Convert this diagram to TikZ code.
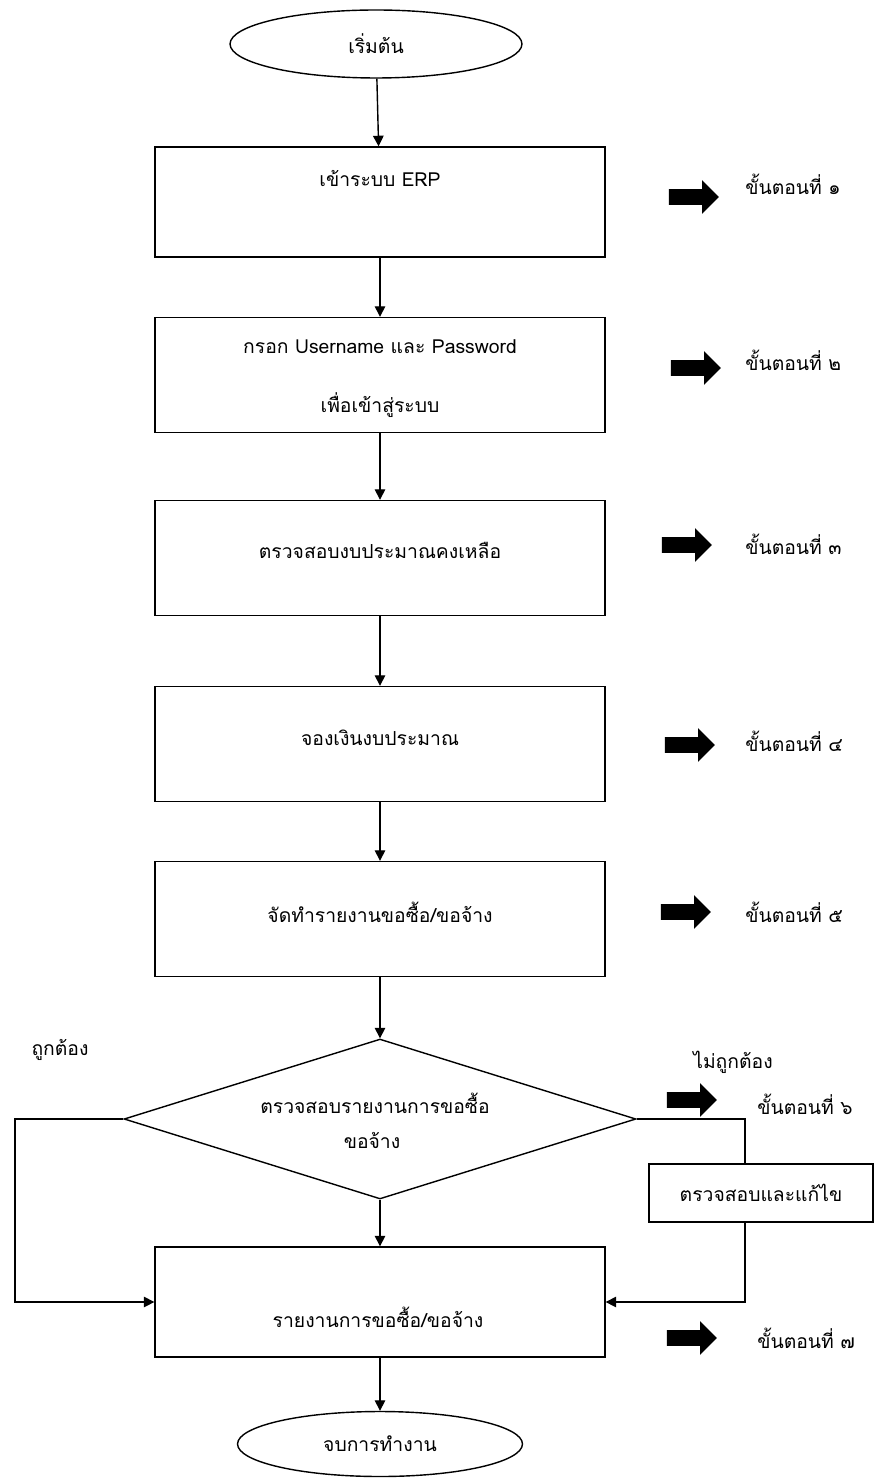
\documentclass[tikz,border=0pt]{standalone}
\usepackage{fontspec}
\newfontfamily\thaifont[Script=Thai]{Loma}
\usetikzlibrary{shapes.geometric,shapes.arrows,arrows.meta}

\begin{document}
\begin{tikzpicture}[x=0.02cm,y=-0.02cm,
        font=\thaifont\fontsize{11}{13}\selectfont,
        box/.style={draw,line width=0.8pt,minimum width=9cm,minimum height=2.3cm},
        term/.style={draw,ellipse,line width=0.8pt,inner sep=0pt},
        txt/.style={inner sep=0pt},
        steparrow/.style={single arrow,fill=black,inner xsep=0pt,inner ysep=0.15cm,
            minimum height=1cm,minimum width=0.66cm,single arrow head extend=0.18cm},
        flow/.style={-{Triangle[length=6pt,width=6pt]},line width=0.8pt}]
        \useasboundingbox (0,0) rectangle (875,1479);

        \node[term,minimum width=5.84cm,minimum height=1.36cm] (start) at (376,44) {เริ่มต้น};

        \node[box,minimum height=2.2cm] (b1) at (380,202) {};
        \node[txt] (t1) at (380,178) {เข้าระบบ ERP};

        \node[box] (b2) at (380,375) {};
        \node[txt] (t2a) at (380,347) {กรอก Username และ Password};
        \node[txt] (t2b) at (380,405) {เพื่อเข้าสู่ระบบ};

        \node[box] (b3) at (380,558) {};
        \node[txt] (t3) at (380,550) {ตรวจสอบงบประมาณคงเหลือ};

        \node[box] (b4) at (380,744) {};
        \node[txt] (t4) at (380,738) {จองเงินงบประมาณ};

        \node[box] (b5) at (380,919) {};
        \node[txt] (t5) at (380,912) {จัดทำรายงานขอซื้อ/ขอจ้าง};

        \node[draw,diamond,line width=0.8pt,inner sep=0pt,minimum width=10.24cm,minimum height=3.2cm] (check) at (380,1119) {};
        \node[txt] (tc1) at (375,1103) {ตรวจสอบรายงานการขอซื้อ};
        \node[txt] (tc2) at (372,1140) {ขอจ้าง};

        \node[draw,line width=0.8pt,minimum width=4.48cm,minimum height=1.16cm] (fix) at (761,1193) {ตรวจสอบและแก้ไข};

        \node[box,minimum height=2.2cm] (b7) at (380,1302) {};
        \node[txt] (t7) at (378,1317) {รายงานการขอซื้อ/ขอจ้าง};

        \node[term,minimum width=5.7cm,minimum height=1.3cm] (stop) at (380,1444) {จบการทำงาน};

        \node[txt] (ok) at (60,1050) {ถูกต้อง};
        \node[txt] (notok) at (733,1062) {ไม่ถูกต้อง};

        \node[steparrow] (s1) at (690,197) {};
        \node[txt,anchor=west] (l1) at (745,184) {ขั้นตอนที่ ๑};
        \node[steparrow] (s2) at (692,368) {};
        \node[txt,anchor=west] (l2) at (745,360) {ขั้นตอนที่ ๒};
        \node[steparrow] (s3) at (683,545) {};
        \node[txt,anchor=west] (l3) at (745,544) {ขั้นตอนที่ ๓};
        \node[steparrow] (s4) at (686,745) {};
        \node[txt,anchor=west] (l4) at (745,741) {ขั้นตอนที่ ๔};
        \node[steparrow] (s5) at (682,912) {};
        \node[txt,anchor=west] (l5) at (745,912) {ขั้นตอนที่ ๕};
        \node[steparrow] (s6) at (688,1100) {};
        \node[txt,anchor=west] (l6) at (757,1104) {ขั้นตอนที่ ๖};
        \node[steparrow] (s7) at (688,1338) {};
        \node[txt,anchor=west] (l7) at (757,1338) {ขั้นตอนที่ ๗};

        \coordinate (lt) at (15,1119);
        \coordinate (rt) at (745,1119);

        \draw[flow] (start) -- (b1);
        \draw[flow] (b1) -- (b2);
        \draw[flow] (b2) -- (b3);
        \draw[flow] (b3) -- (b4);
        \draw[flow] (b4) -- (b5);
        \draw[flow] (b5) -- (check);
        \draw[flow] (check) -- (b7);
        \draw[flow] (b7) -- (stop);
        \draw[flow] (check.west) -- (lt) |- (b7.west);
        \draw[line width=0.8pt] (check.east) -- (rt) -- (rt |- fix.north);
        \draw[flow] (rt |- fix.south) |- (b7.east);
      \end{tikzpicture}
\end{document}
